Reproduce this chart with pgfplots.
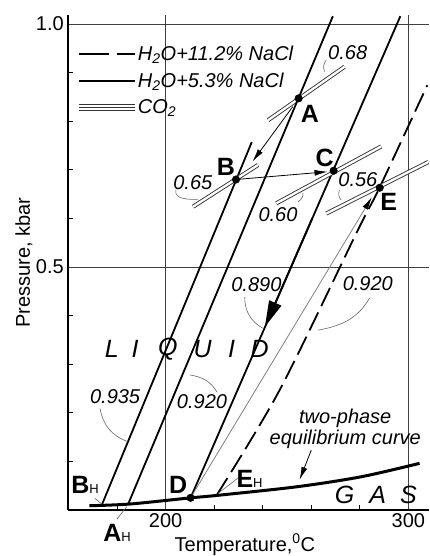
\documentclass[border=0pt]{standalone}
\usepackage{fontspec}
\setmainfont{Liberation Sans}
\usepackage{pgfplots}
\pgfplotsset{compat=1.18}
\usetikzlibrary{arrows.meta}
\newcommand\ft{\fontsize{20}{24}\selectfont}
\newcommand\fb{\fontsize{25}{30}\selectfont\bfseries}
\newcommand\fh{\fontsize{13}{13}\selectfont\mdseries}
\newcommand\fl{\fontsize{25}{30}\selectfont\itshape}
\begin{document}
\begin{tikzpicture}
\begin{axis}[
  name=ax,
  width=361pt, height=495pt, scale only axis,
  xmin=159.8, xmax=308.5, ymin=0, ymax=1.0185,
  axis x line=bottom, axis y line=left,
  axis line style={line width=1.6pt, -},
  xtick={200,300}, xticklabels={200,300},
  ytick={0.5,1.0}, yticklabels={0.5,1.0},
  minor xtick={180,220,240,260,280},
  minor ytick={0.1,0.2,0.3,0.4,0.6,0.7,0.8,0.9},
  tick align=inside, major tick length=0pt, minor tick length=5pt,
  minor tick style={line width=0.8pt, black},
  grid=major, major grid style={line width=0.8pt, black!75},
  ticklabel style={font=\ft},
  xticklabel style={inner sep=3pt},
  yticklabel style={inner sep=4pt},
  clip=false,
  legend style={at={(0.024,0.940)}, anchor=north west, draw=none, fill=none,
    inner sep=0pt, row sep=9pt, font=\itshape\ft, nodes={inner sep=1pt}},
  legend cell align=left,
  every axis plot/.append style={no markers},
]
% legend series
\addplot[black, line width=1.8pt, dash pattern=on 20pt off 7pt, smooth,
  legend image code/.code={\draw[black, line width=1.8pt, dash pattern=on 30pt off 8pt on 30pt off 8pt] (0pt,0pt) -- (56pt,0pt);}] coordinates {
 (221.1,0.031) (247.0,0.247) (279.2,0.576) (288.1,0.663) (307.8,0.874)};
\addlegendentry{H\textsubscript{2}O+11.2\% NaCl}
\addplot[black, line width=1.8pt,
  legend image code/.code={\draw[black, line width=1.8pt] (0pt,0pt) -- (56pt,0pt);}] coordinates {(173.7,0.010) (235.5,0.757)};
\addlegendentry{H\textsubscript{2}O+5.3\% NaCl}
\addplot[black!80, line width=0.9pt, double=white, double distance=2.3pt,
  legend image code/.code={\draw[black!80, line width=0.9pt] (0pt,1.6pt) -- (56pt,1.6pt); \draw[black!80, line width=0.9pt] (0pt,-1.6pt) -- (56pt,-1.6pt);}] coordinates {(242.2,0.802) (273.7,0.912)};
\addlegendentry{CO\textsubscript{2}}
% other isochores
\addplot[black, line width=1.8pt, forget plot] coordinates {(184.6,0.0123) (268.9,1.016)};
\addplot[black, line width=1.8pt, forget plot] coordinates {(210.3,0.025) (296.7,1.016)};
% CO2 isochores
\addplot[black!80, line width=0.9pt, double=white, double distance=2.3pt, forget plot] coordinates {(211.3,0.624) (238.1,0.710)};
\addplot[black!80, line width=0.9pt, double=white, double distance=2.3pt, forget plot] coordinates {(245.6,0.631) (288.8,0.748)};
\addplot[black!80, line width=0.9pt, double=white, double distance=2.3pt, forget plot] coordinates {(266.2,0.610) (308.2,0.716)};
% two-phase curve
\addplot[black, line width=3pt, smooth, forget plot] coordinates {
 (168.6,0.0088) (185.3,0.0123) (210.3,0.025) (221.1,0.030) (254.4,0.048) (280.7,0.0685) (304.6,0.096)};
% path arrows
\addplot[black, line width=0.8pt, -{Latex[length=13pt,width=6pt]}, forget plot] coordinates {(252.4,0.830) (235.8,0.717)};
\addplot[black, line width=0.8pt, -{Latex[length=13pt,width=6pt]}, forget plot] coordinates {(229.0,0.680) (266.7,0.696)};
\addplot[black!50, line width=0.8pt, -{Latex[length=13pt,width=6pt,color=black]}, forget plot] coordinates {(210.3,0.025) (285.0,0.644)};
\addplot[black, line width=1.8pt, -{Triangle[length=26pt,width=13pt]}, forget plot] coordinates {(260.4,0.6) (240.9,0.377)};
\addplot[black, line width=0.8pt, -{Latex[length=13pt,width=6pt]}, forget plot] coordinates {(260.0,0.123) (255.2,0.062)};
% points
\addplot[only marks, mark=*, mark size=3.8pt, black, forget plot] coordinates {
 (254.8,0.847) (229.0,0.680) (269.2,0.698) (210.3,0.025) (288.2,0.663)};
% leaders
\begin{scope}[black!60, line width=0.6pt]
\draw (axis cs:266.2,0.926) to[bend right=30] (axis cs:265.5,0.902);
\draw (axis cs:204.2,0.658) to[out=-100,in=180] (axis cs:213.3,0.639);
\draw (axis cs:256.6,0.652) to[bend left=30] (axis cs:254.5,0.634);
\draw (axis cs:271.6,0.658) to[bend right=30] (axis cs:272.3,0.638);
\draw (axis cs:232.6,0.438) to[out=-90,in=150] (axis cs:240.0,0.374);
\draw (axis cs:284.0,0.436) to[out=-120,in=10] (axis cs:262.7,0.370);
\draw (axis cs:173.0,0.209) to[out=-80,in=160] (axis cs:184.3,0.141);
\draw (axis cs:210.0,0.278) to[out=-10,in=120] (axis cs:221.1,0.243);
\draw (axis cs:170.9,0.024) -- (axis cs:173.7,0.0123);
\draw (axis cs:179.9,-0.019) -- (axis cs:184.0,0.0068);
\draw (axis cs:230.5,0.0685) -- (axis cs:221.6,0.034);
\end{scope}
% axis titles
\node[font=\ft, rotate=90] at (rel axis cs:-0.122,0.5) {Pressure, kbar};
\node[font=\ft] at (rel axis cs:0.49,-0.07) {Temperature,\textsuperscript{0}C};
% labels
\node[font=\itshape\ft] at (axis cs:275.0,0.941) {0.68};
\node[font=\itshape\ft] at (axis cs:211.2,0.673) {0.65};
\node[font=\itshape\ft] at (axis cs:246.3,0.607) {0.60};
\node[font=\itshape\ft] at (axis cs:279.2,0.679) {0.56};
\node[font=\itshape\ft] at (axis cs:237.4,0.463) {0.890};
\node[font=\itshape\ft] at (axis cs:283.3,0.466) {0.920};
\node[font=\itshape\ft] at (axis cs:179.2,0.233) {0.935};
\node[font=\itshape\ft] at (axis cs:215.0,0.222) {0.920};
\node[font=\itshape\ft, align=center, inner sep=0pt] at (axis cs:274.0,0.167) {two-phase\\[-3pt]equilibrium curve};
\node[font=\fb] at (axis cs:259.4,0.816) {A};
\node[font=\fb] at (axis cs:224.8,0.706) {B};
\node[font=\fb] at (axis cs:265.5,0.724) {C};
\node[font=\fb] at (axis cs:291.9,0.634) {E};
\node[font=\fb] at (axis cs:205.2,0.051) {D};
\node[font=\fb] at (axis cs:166.8,0.051) {B{\fh H}};
\node[font=\fb] at (axis cs:180.0,-0.048) {A{\fh H}};
\node[font=\fb] at (axis cs:234.6,0.065) {E{\fh H}};
\node[font=\fl] at (axis cs:177.9,0.331) {L};
\node[font=\fl] at (axis cs:187.4,0.331) {I};
\node[font=\fl] at (axis cs:200.9,0.331) {Q};
\node[font=\fl] at (axis cs:215.3,0.331) {U};
\node[font=\fl] at (axis cs:227.2,0.331) {I};
\node[font=\fl] at (axis cs:238.7,0.331) {D};
\node[font=\fl] at (axis cs:273.7,0.031) {G};
\node[font=\fl] at (axis cs:287.4,0.031) {A};
\node[font=\fl] at (axis cs:300.0,0.031) {S};
\end{axis}
\pgfresetboundingbox
\path[use as bounding box] (ax.south west) ++(-68pt,-46pt) rectangle ++(429pt,556pt);
\end{tikzpicture}
\end{document}
